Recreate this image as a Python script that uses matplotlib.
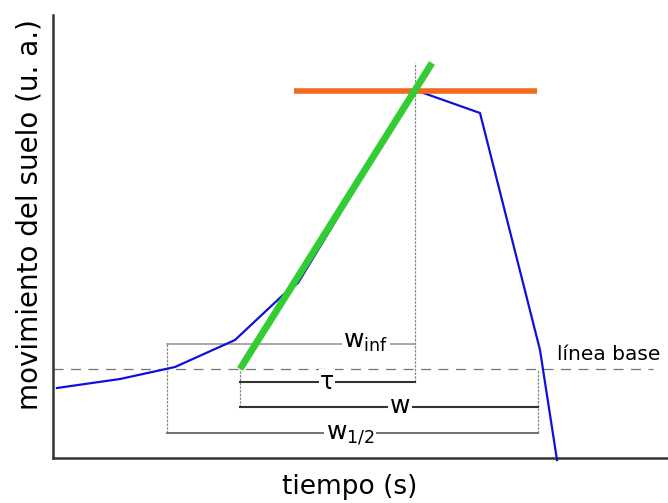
import matplotlib.pyplot as plt

# signal (time, ground motion), arbitrary units
t_signal = [57, 120, 175, 235, 283, 298, 415, 480, 540, 557]
amp_signal = [70, 79, 91, 118, 163, 175, 368, 345, 108, -2]

# tangent at inflection and peak level
t_tangent = [240, 432]
amp_tangent = [89, 395]
t_peak_line = [294, 537]
amp_peak_line = [367, 367]

baseline = 89
t_half = 167
t_onset = 240
t_peak = 415
t_end = 538

# bracket levels
lvl_winf = 114
lvl_tau = 76
lvl_w = 51
lvl_half = 25

fig = plt.figure(figsize=(6.68, 5.03), dpi=100)
ax = fig.add_axes([53 / 668, 45 / 503, 615 / 668, 443 / 503])
ax.set_xlim(53, 668)
ax.set_ylim(0, 443)

# baseline
ax.plot([53, 653], [baseline, baseline], color="#777777", lw=0.9, dashes=(8, 6))
ax.text(557, baseline + 5, "línea base", fontsize=14.5, ha="left", va="bottom")

# vertical guides
gkw = dict(color="#888888", lw=0.9, ls=(0, (2, 1)))
ax.plot([t_peak, t_peak], [lvl_tau, 395], **gkw)
ax.plot([t_half, t_half], [lvl_half, lvl_winf], **gkw)
ax.plot([t_onset, t_onset], [lvl_w, baseline], **gkw)
ax.plot([t_end, t_end], [lvl_half, baseline], **gkw)

# brackets
ax.plot([t_half, t_peak], [lvl_winf, lvl_winf], color="#999999", lw=1.2)
ax.plot([t_onset, t_peak], [lvl_tau, lvl_tau], color="#333333", lw=1.5)
ax.plot([t_onset, t_end], [lvl_w, lvl_w], color="#333333", lw=1.5)
ax.plot([t_half, t_end], [lvl_half, lvl_half], color="#666666", lw=1.3)

box = dict(facecolor="white", edgecolor="none", pad=1)
ax.text(366, lvl_winf + 2, r"w$_{\mathrm{inf}}$", fontsize=18, ha="center", va="center", bbox=box)
ax.text(327, lvl_tau, "τ", fontsize=17, ha="center", va="center", bbox=box)
ax.text(400, lvl_w + 1, "w", fontsize=18, ha="center", va="center", bbox=box)
ax.text(350, lvl_half - 2, r"w$_{1/2}$", fontsize=18, ha="center", va="center", bbox=box)

# signal, tangent, peak
ax.plot(t_signal, amp_signal, color="#1010d8", lw=1.6, clip_on=False, zorder=3)
ax.plot(t_peak_line, amp_peak_line, color="#f26a1b", lw=4, solid_capstyle="butt", zorder=4)
ax.plot(t_tangent, amp_tangent, color="#33cc33", lw=5, solid_capstyle="butt", zorder=5)

ax.set_xticks([])
ax.set_yticks([])
for s in ["top", "right"]:
    ax.spines[s].set_visible(False)
for s in ["left", "bottom"]:
    ax.spines[s].set_linewidth(1.8)
    ax.spines[s].set_color("#333333")

ax.set_xlabel("tiempo (s)", fontsize=19)
ax.set_ylabel("movimiento del suelo (u. a.)", fontsize=20)
ax.xaxis.set_label_coords(0.483, -0.036)
ax.yaxis.set_label_coords(-0.015, 0.549)

fig.savefig("out.png", dpi=100)
